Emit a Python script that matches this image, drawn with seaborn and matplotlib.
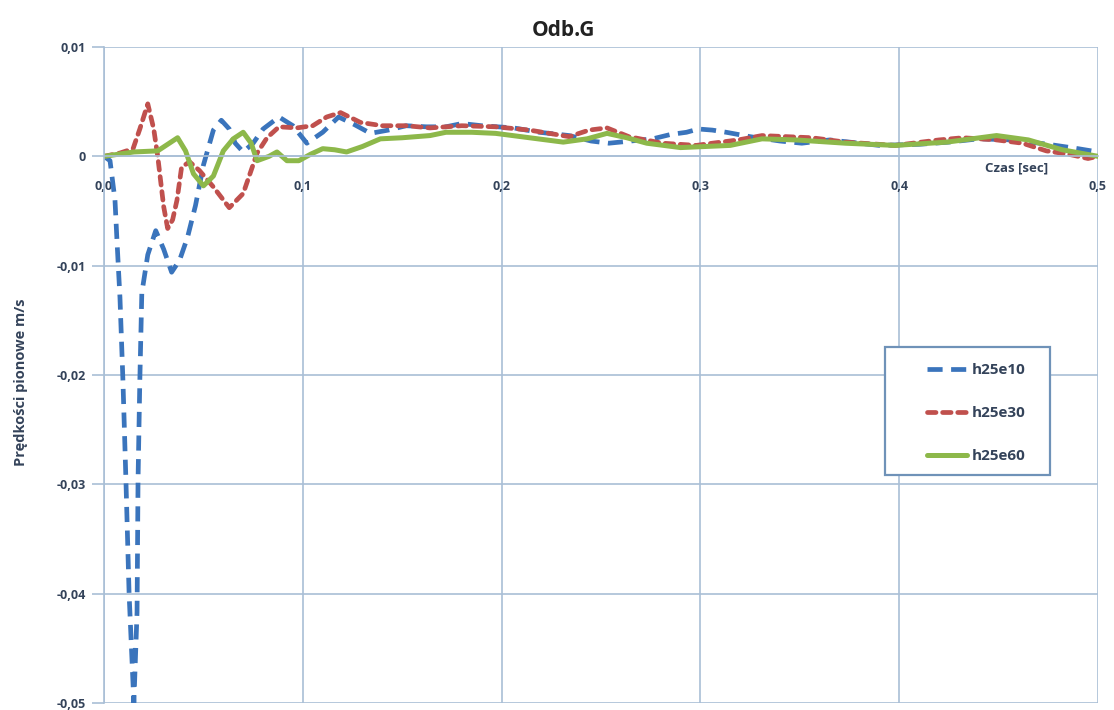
import numpy as np
import pandas as pd
import matplotlib
matplotlib.use("Agg")
import matplotlib.pyplot as plt
import seaborn as sns
from matplotlib.ticker import FuncFormatter
from matplotlib.patches import Rectangle

# h25e10
t_e10 = [0, 0.003, 0.0055, 0.0065, 0.008, 0.0095, 0.011, 0.0126, 0.015, 0.0166, 0.0171, 0.018,
         0.019, 0.022, 0.026, 0.030, 0.034, 0.038, 0.042, 0.046, 0.050, 0.055, 0.059, 0.063,
         0.066, 0.070, 0.075, 0.080, 0.088, 0.095, 0.102, 0.110, 0.118, 0.126, 0.134, 0.143,
         0.152, 0.162, 0.172, 0.180, 0.190, 0.206, 0.219, 0.234, 0.245, 0.254, 0.265, 0.276,
         0.285, 0.293, 0.299, 0.306, 0.313, 0.325, 0.340, 0.351, 0.365, 0.380, 0.390, 0.410,
         0.425, 0.440, 0.457, 0.475, 0.490, 0.500]
v_e10 = [0, -0.0004, -0.004, -0.0077, -0.0129, -0.0205, -0.0296, -0.040, -0.050, -0.0417, -0.0296, -0.0205,
         -0.0125, -0.009, -0.0068, -0.0085, -0.0106, -0.0095, -0.0074, -0.0045, -0.0008, 0.0024, 0.0033, 0.0025,
         0.0012, 0.0004, 0.0012, 0.0025, 0.0036, 0.0028, 0.0012, 0.0022, 0.0036, 0.0029, 0.0021, 0.0024,
         0.0028, 0.0027, 0.0027, 0.0030, 0.0028, 0.0026, 0.0022, 0.0019, 0.0014, 0.0012, 0.0014, 0.0016,
         0.0020, 0.0022, 0.0025, 0.0024, 0.0022, 0.0018, 0.0014, 0.0012, 0.0015, 0.0012, 0.0010, 0.0011,
         0.0013, 0.0016, 0.0015, 0.0011, 0.0007, 0.0004]

# h25e30
t_e30 = [0, 0.008, 0.0146, 0.018, 0.022, 0.025, 0.027, 0.030, 0.032, 0.0345, 0.0367, 0.039, 0.043,
         0.048, 0.055, 0.063, 0.070, 0.077, 0.082, 0.088, 0.097, 0.105, 0.112, 0.119, 0.129, 0.140,
         0.152, 0.164, 0.180, 0.197, 0.214, 0.234, 0.244, 0.253, 0.264, 0.281, 0.298, 0.306, 0.319,
         0.331, 0.356, 0.373, 0.398, 0.420, 0.432, 0.449, 0.462, 0.474, 0.485, 0.495, 0.500]
v_e30 = [0, 0.0003, 0.0007, 0.0025, 0.0048, 0.0025, 0.0, -0.0046, -0.0066, -0.0058, -0.004, -0.001, -0.0005,
         -0.0013, -0.0028, -0.0047, -0.0034, 0.0003, 0.0017, 0.0027, 0.0026, 0.0028, 0.0036, 0.0040, 0.0031, 0.0028,
         0.0028, 0.0026, 0.0028, 0.0027, 0.0024, 0.0018, 0.0024, 0.0026, 0.0018, 0.0012, 0.0010, 0.0012, 0.0015,
         0.0019, 0.0017, 0.0013, 0.0010, 0.0015, 0.0017, 0.0015, 0.0012, 0.0005, 0.0002, -0.0002, 0.0]

# h25e60
t_e60 = [0, 0.015, 0.027, 0.032, 0.037, 0.041, 0.045, 0.050, 0.055, 0.060, 0.065, 0.070, 0.074,
         0.077, 0.083, 0.087, 0.092, 0.098, 0.104, 0.110, 0.116, 0.122, 0.130, 0.139, 0.150, 0.164,
         0.172, 0.185, 0.197, 0.214, 0.231, 0.243, 0.253, 0.263, 0.273, 0.290, 0.315, 0.331, 0.348,
         0.373, 0.398, 0.424, 0.449, 0.465, 0.482, 0.500]
v_e60 = [0, 0.0004, 0.0005, 0.0011, 0.0017, 0.0005, -0.0016, -0.0027, -0.0018, 0.0005, 0.0016, 0.0022, 0.0012,
         -0.0004, 0.0, 0.0004, -0.0004, -0.0004, 0.0002, 0.0007, 0.0006, 0.0004, 0.0009, 0.0016, 0.0017, 0.0019,
         0.0022, 0.0022, 0.0021, 0.0017, 0.0013, 0.0016, 0.0021, 0.0017, 0.0012, 0.0008, 0.0010, 0.0016, 0.0015,
         0.0012, 0.0010, 0.0013, 0.0019, 0.0015, 0.0006, 0.0]

x_ticks = [0, 0.1, 0.2, 0.3, 0.4, 0.5]
y_ticks = [-0.05, -0.04, -0.03, -0.02, -0.01, 0, 0.01]

sns.set_theme(style="white")
plt.rcParams['font.family'] = ['Open Sans', 'DejaVu Sans']

fig = plt.figure(figsize=(11.14, 7.10), dpi=100)
ax = fig.add_axes([0.0934, 0.0099, 0.8922, 0.9239])

grid_c = "#A9BFD6"
txt_c = "#34435A"
series = [("h25e10", t_e10, v_e10, "#3A74BC", (0, (3.2, 1.8)), 3.4, "butt"),
          ("h25e30", t_e30, v_e30, "#C0504D", (0, (1.8, 1.4)), 3.4, "round"),
          ("h25e60", t_e60, v_e60, "#8DB84A", "-", 3.6, "butt")]
for name, t, v, c, ls, lw, cap in series:
    sns.lineplot(x=t, y=v, ax=ax, color=c, label=name, lw=lw, linestyle=ls,
                 errorbar=None, sort=False)
    ax.lines[-1].set_dash_capstyle(cap)

ax.set_xlim(0, 0.5)
ax.set_ylim(-0.05, 0.01)
ax.set_xticks(x_ticks)
ax.set_yticks(y_ticks)
ax.grid(True, color=grid_c, lw=1.2)
ax.set_axisbelow(True)

for s in ["top", "right"]:
    ax.spines[s].set_visible(False)
ax.spines["left"].set_color(grid_c)
ax.spines["left"].set_linewidth(1.2)
ax.spines["bottom"].set_position(("data", 0))
ax.spines["bottom"].set_color(grid_c)
ax.spines["bottom"].set_linewidth(1.2)

fmt = lambda v, p: "0" if abs(v) < 1e-12 else ("%.2f" % v).replace(".", ",")
ax.yaxis.set_major_formatter(FuncFormatter(fmt))
ax.xaxis.set_major_formatter(FuncFormatter(lambda v, p: ("%.1f" % v).replace(".", ",")))
ax.tick_params(axis="y", left=True, length=9, width=1.2, color=grid_c, pad=4,
               labelsize=9, labelcolor=txt_c)
ax.tick_params(axis="x", bottom=False, pad=11, labelsize=9, labelcolor=txt_c)
for lab in ax.get_xticklabels() + ax.get_yticklabels():
    lab.set_fontweight("bold")

ax.set_xlabel("")
ax.set_ylabel("")
ax.text(0.459, -0.0011, "Czas [sec]", ha="center", va="center", fontsize=9.5,
        fontweight="bold", color=txt_c)
fig.text(21 / 1114, 1 - 382 / 710, "Prędkości pionowe m/s", rotation=90, ha="center",
         va="center", fontsize=10.5, fontweight="bold", color=txt_c)
fig.text(563 / 1114, 1 - 30 / 710, "Odb.G", ha="center", va="center", fontsize=15,
         fontweight="bold", color="#222222")

# legend box frame drawn separately so the padding matches the original
ax.add_patch(Rectangle((0.7857, 0.3476), 0.166, 0.195, transform=ax.transAxes,
                       facecolor="white", edgecolor="#6F92B8", lw=1.6, zorder=4.5))
leg = ax.legend(loc="upper left", bbox_to_anchor=(0.828, 0.518), frameon=False,
                fontsize=11, labelspacing=1.9, handlelength=2.6,
                handletextpad=0.3, borderpad=0, borderaxespad=0)
leg.set_zorder(5)
for txt in leg.get_texts():
    txt.set_fontweight("bold")
    txt.set_color(txt_c)

fig.savefig("out.png", dpi=100)
